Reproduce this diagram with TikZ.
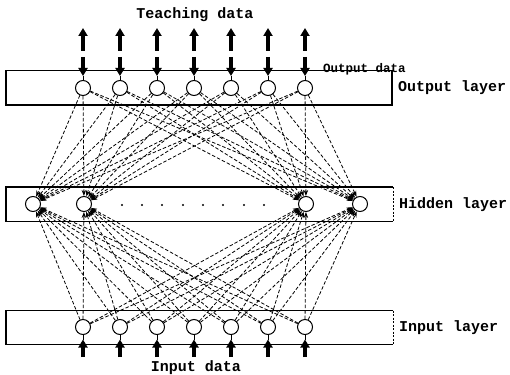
\documentclass[tikz,border=0pt]{standalone}
\usepackage{fontspec}
\setmonofont{Liberation Mono}
\usetikzlibrary{arrows.meta}
\begin{document}
\begin{tikzpicture}[x=1pt,y=-1pt,
  neuron/.style={circle,draw,line width=1pt,minimum size=15pt,inner sep=0pt,fill=white},
  link/.style={dash pattern=on 3.5pt off 2pt,line width=0.8pt,-{Stealth[length=6pt,width=4.5pt]}},
  boxline/.style={line width=1.4pt},
  bigarrow/.style={line width=3.6pt,-{Triangle[length=8pt,width=9pt]}},
  thinlink/.style={line width=1pt},
  lbl/.style={font=\ttfamily\bfseries\fontsize{15}{16}\selectfont,inner sep=0pt},
  slbl/.style={font=\ttfamily\bfseries\fontsize{12.5}{13}\selectfont,inner sep=0pt}]
\useasboundingbox (0,0) rectangle (510,374);

% boxes
\draw[boxline] (6,70.5) rectangle (392,105);
\draw[boxline] (393,187) -- (6,187) -- (6,221.5) -- (393,221.5);
\draw[line width=0.6pt,dash pattern=on 2pt off 1.5pt] (393,187) -- (393,221.5);
\draw[boxline] (393,310.5) -- (6,310.5) -- (6,344.5) -- (393,344.5);
\draw[line width=0.6pt,dash pattern=on 2pt off 1.5pt] (393,310.5) -- (393,344.5);

% neurons
\foreach \i/\x in {1/83,2/120,3/157,4/194,5/231,6/268,7/305}{
  \node[neuron] (o\i) at (\x,88) {};
  \node[neuron] (in\i) at (\x,327) {};
}
\foreach \j/\x in {1/33,2/84,3/306,4/360}{
  \node[neuron] (h\j) at (\x,204) {};
}
\foreach \x in {122,142,162,183,203,223,244,264}{
  \fill (\x,205) circle (1.2pt);
}

% connections
\foreach \i in {1,...,7}{
  \foreach \j in {1,...,4}{
    \draw[link] (o\i) -- (h\j);
    \draw[link] (in\i) -- (h\j);
  }
}

% data arrows
\foreach \i/\x in {1/83,2/120,3/157,4/194,5/231,6/268,7/305}{
  \coordinate (tb\i) at (\x,51);
  \coordinate (tt\i) at (\x,28);
  \coordinate (ds\i) at (\x,57);
  \coordinate (de\i) at (\x,76);
  \coordinate (ub\i) at (\x,357);
  \coordinate (ut\i) at (\x,339.5);
  \draw[bigarrow] (tb\i) -- (tt\i);
  \draw[bigarrow] (ds\i) -- (de\i);
  \draw[thinlink] (de\i) -- (o\i);
  \draw[bigarrow] (ub\i) -- (ut\i);
  \draw[thinlink] (ut\i) -- (in\i);
}

% labels
\node[lbl] (teach) at (195,15) {Teaching data};
\node[slbl,anchor=west] (outd) at (323,69) {Output data};
\node[lbl,anchor=west] (outl) at (398,88) {Output layer};
\node[lbl,anchor=west] (hidl) at (399,205) {Hidden layer};
\node[lbl,anchor=west] (inl) at (399,328) {Input layer};
\node[lbl] (ind) at (196,367.5) {Input data};
\end{tikzpicture}
\end{document}
